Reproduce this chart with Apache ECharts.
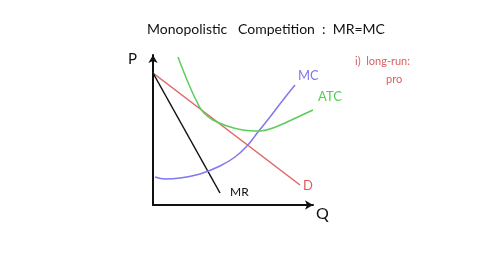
<!DOCTYPE html>
<html><head><meta charset="utf-8">
<script src="https://cdn.jsdelivr.net/npm/echarts@6/dist/echarts.min.js"></script>
<style>html,body{margin:0;padding:0;background:#fff}#c{width:480px;height:270px}</style>
</head><body><div id="c"></div>
<script>
const demand = [[0,132],[147,20]];
const mr = [[0,132],[67,12]];
const mc = [[2,28],[12,26],[27,27],[47,31],[67,39],[82,48],[94,59],[105,73],[117,88],[130,105],[142,120]];
const atc = [[25,148],[30,135],[37,118],[44,103],[50,93],[60,85],[74,79],[90,75],[107,74],[120,77],[134,83],[147,89],[160,95]];
const labels = [
  {text:'P', x:128, y:52, color:'#111', size:15},
  {text:'Q', x:316, y:206, color:'#111', size:16},
  {text:'MR', x:230, y:186, color:'#111', size:12},
  {text:'D', x:303, y:179, color:'#e05a5a', size:13},
  {text:'MC', x:298, y:69, color:'#7f77ec', size:13},
  {text:'ATC', x:318, y:90, color:'#55cc55', size:13},
  {text:'i)  long-run:', x:355, y:56, color:'#d96060', size:11},
  {text:'pro', x:386, y:74, color:'#d96060', size:11}
];
const titleText = 'Monopolistic   Competition  :  MR=MC';

const chart = echarts.init(document.getElementById('c'));
const font = 'Lato, "Open Sans", sans-serif';
chart.setOption({
  backgroundColor:'#fff',
  animation:false,
  grid:{left:153,right:167,top:55,bottom:65},
  xAxis:{type:'value',min:0,max:160,
    axisLine:{show:true,symbol:['none','arrow'],symbolSize:[7,8],lineStyle:{color:'#111',width:2}},
    axisTick:{show:false},axisLabel:{show:false},splitLine:{show:false}},
  yAxis:{type:'value',min:0,max:150,
    axisLine:{show:true,symbol:['none','arrow'],symbolSize:[7,8],lineStyle:{color:'#111',width:2}},
    axisTick:{show:false},axisLabel:{show:false},splitLine:{show:false}},
  series:[
    {type:'line',data:demand,symbol:'none',lineStyle:{color:'#e06666',width:1.5}},
    {type:'line',data:mr,symbol:'none',lineStyle:{color:'#111',width:1.5}},
    {type:'line',data:mc,symbol:'none',smooth:0.4,lineStyle:{color:'#8078ee',width:1.5}},
    {type:'line',data:atc,symbol:'none',smooth:0.4,lineStyle:{color:'#5ccc5c',width:1.5}}
  ],
  graphic:[
    {type:'text',left:147,top:22,style:{text:titleText,fill:'#111',font:'14px '+font}}
  ].concat(labels.map(l=>({type:'text',x:l.x,y:l.y,style:{text:l.text,fill:l.color,font:l.size+'px '+font}})))
});
</script></body></html>
